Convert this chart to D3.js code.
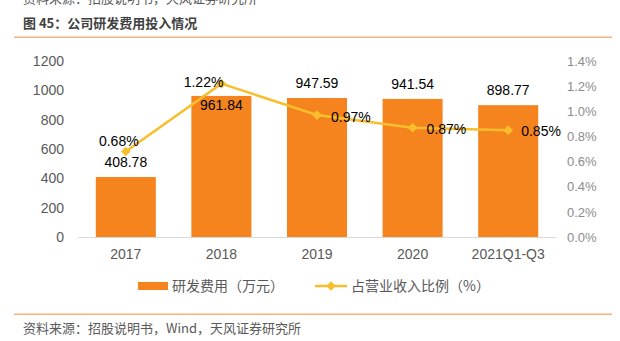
<!DOCTYPE html>
<html>
<head>
<meta charset="utf-8">
<script src="https://cdn.jsdelivr.net/npm/d3@7"></script>
<style>
  html, body { margin: 0; padding: 0; background: #fff; }
  svg { display: block; }
</style>
</head>
<body>
<svg id="chart" width="620" height="341"></svg>
<script>
// R&D spending (万元) and its share of operating revenue (%)
const categories = ["2017", "2018", "2019", "2020", "2021Q1-Q3"];
const rdExpense = [408.78, 961.84, 947.59, 941.54, 898.77];
const revenueShare = [0.68, 1.22, 0.97, 0.87, 0.85];
const leftTicks = [0, 200, 400, 600, 800, 1000, 1200];
const rightTicks = [0, 0.2, 0.4, 0.6, 0.8, 1.0, 1.2, 1.4];

const barColor = "#F5841F";
const lineColor = "#F9BE2C";
const cnFont = "'Noto Sans CJK SC', 'Liberation Sans', sans-serif";
const numFont = "'Liberation Sans', Arial, sans-serif";

const svg = d3.select("#chart");

// Header and footer
svg.append("text").attr("x", 23).attr("y", 3)
  .attr("font-family", cnFont).attr("font-size", 13).attr("fill", "#595959")
  .text("资料来源：招股说明书，天风证券研究所");
svg.append("text").attr("x", 23).attr("y", 27.5)
  .attr("font-family", cnFont).attr("font-size", 13).attr("font-weight", 700).attr("fill", "#404040")
  .text("图 45：公司研发费用投入情况");
svg.append("line").attr("x1", 14).attr("x2", 612).attr("y1", 37.3).attr("y2", 37.3)
  .attr("stroke", "#F6B27B").attr("stroke-width", 1.5);
svg.append("line").attr("x1", 14).attr("x2", 612).attr("y1", 314.3).attr("y2", 314.3)
  .attr("stroke", "#F6B27B").attr("stroke-width", 1.5);
svg.append("text").attr("x", 23).attr("y", 332.5)
  .attr("font-family", cnFont).attr("font-size", 13).attr("fill", "#595959")
  .text("资料来源：招股说明书，Wind，天风证券研究所");

// Scales
const x = d3.scaleBand().domain(categories).range([78, 556]).paddingInner(0.372).paddingOuter(0.186);
const yL = d3.scaleLinear().domain([0, 1200]).range([237, 61]);
const yR = d3.scaleLinear().domain([0, 1.4]).range([237, 61]);

// Left axis
const axL = svg.append("g").attr("transform", "translate(78,0)")
  .call(d3.axisLeft(yL).tickValues(leftTicks).tickSize(0).tickPadding(14).tickFormat(d3.format("d")));
axL.select(".domain").remove();
axL.selectAll("text").attr("font-family", numFont).attr("font-size", 14).attr("fill", "#595959");

// Right axis
const axR = svg.append("g").attr("transform", "translate(556,0)")
  .call(d3.axisRight(yR).tickValues(rightTicks).tickSize(0).tickPadding(11).tickFormat(d3.format(".1%")).tickFormat(d => d.toFixed(1) + "%"));
axR.select(".domain").remove();
axR.selectAll("text").attr("font-family", "'Liberation Sans Narrow', 'Liberation Sans', sans-serif")
  .attr("font-stretch", "condensed").attr("font-size", 13).attr("fill", "#8C8C8C");

// Bars
svg.append("g").selectAll("rect").data(rdExpense).join("rect")
  .attr("x", (d, i) => x(categories[i]))
  .attr("width", x.bandwidth())
  .attr("y", d => yL(d))
  .attr("height", d => yL(0) - yL(d))
  .attr("fill", barColor);

// Bottom axis
const axB = svg.append("g").attr("transform", "translate(0,237)")
  .call(d3.axisBottom(x).tickSize(0).tickPadding(12));
axB.select(".domain").attr("stroke", "#D9D9D9").attr("stroke-width", 1);
axB.selectAll("text").attr("font-family", numFont).attr("font-size", 14).attr("fill", "#595959");

// Bar value labels (the 2018 label sits inside the bar, below the line label)
const barLabelShift = [0, 24, 0, 0, 0];
svg.append("g").selectAll("text").data(rdExpense).join("text")
  .attr("x", (d, i) => x(categories[i]) + x.bandwidth() / 2)
  .attr("y", (d, i) => yL(d) - 10 + barLabelShift[i])
  .attr("text-anchor", "middle")
  .attr("font-family", numFont).attr("font-size", 14).attr("fill", "#000")
  .text(d => d.toFixed(2));

// Share line
const cx = i => x(categories[i]) + x.bandwidth() / 2;
const line = d3.line().x((d, i) => cx(i)).y(d => yR(d));
svg.append("path").datum(revenueShare)
  .attr("d", line).attr("fill", "none").attr("stroke", lineColor).attr("stroke-width", 2.5);
svg.append("g").selectAll("path").data(revenueShare).join("path")
  .attr("d", d3.symbol(d3.symbolDiamond2, 60)())
  .attr("transform", (d, i) => `translate(${cx(i)},${yR(d)})`)
  .attr("fill", lineColor);

// Share labels
const shareLabelPos = [
  { dx: -7, dy: -6, anchor: "middle" },
  { dx: 2, dy: 3, anchor: "end" },
  { dx: 14, dy: 7, anchor: "start" },
  { dx: 14, dy: 6, anchor: "start" },
  { dx: 13, dy: 6, anchor: "start" }
];
svg.append("g").selectAll("text").data(revenueShare).join("text")
  .attr("x", (d, i) => cx(i) + shareLabelPos[i].dx)
  .attr("y", (d, i) => yR(d) + shareLabelPos[i].dy)
  .attr("text-anchor", (d, i) => shareLabelPos[i].anchor)
  .attr("font-family", numFont).attr("font-size", 14).attr("fill", "#000")
  .text(d => d.toFixed(2) + "%");

// Legend
const lg = svg.append("g");
lg.append("rect").attr("x", 138).attr("y", 282).attr("width", 30).attr("height", 8).attr("fill", barColor);
lg.append("text").attr("x", 172).attr("y", 291)
  .attr("font-family", cnFont).attr("font-size", 14).attr("fill", "#595959")
  .text("研发费用（万元）");
lg.append("line").attr("x1", 315).attr("x2", 347).attr("y1", 286).attr("y2", 286)
  .attr("stroke", lineColor).attr("stroke-width", 2.5);
lg.append("path").attr("d", d3.symbol(d3.symbolDiamond2, 60)())
  .attr("transform", "translate(331,286)").attr("fill", lineColor);
lg.append("text").attr("x", 351).attr("y", 291)
  .attr("font-family", cnFont).attr("font-size", 14).attr("fill", "#595959")
  .text("占营业收入比例（%）");
</script>
</body>
</html>
